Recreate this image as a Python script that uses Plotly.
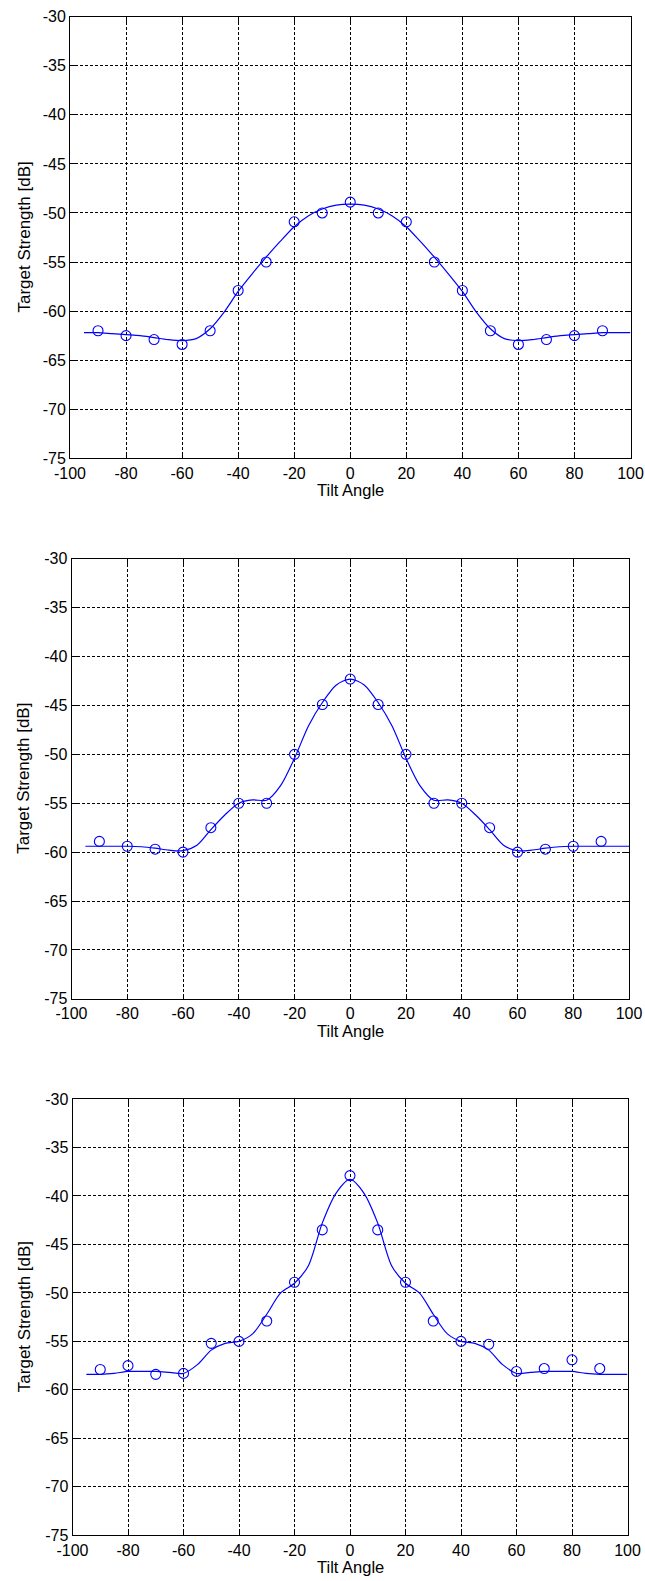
import plotly.graph_objects as go

# ---- data ----
tilt_points = [-90, -80, -70, -60, -50, -40, -30, -20, -10, 0, 10, 20, 30, 40, 50, 60, 70, 80, 90]
ts_points_1 = [-62.0, -62.5, -62.9, -63.4, -62.0, -57.9, -55.0, -50.9, -50.0, -48.9,
               -50.0, -50.9, -55.0, -57.9, -62.0, -63.4, -62.9, -62.5, -62.0]
ts_points_2 = [-58.9, -59.4, -59.7, -60.0, -57.5, -55.0, -55.0, -50.0, -44.9, -42.3,
               -44.9, -50.0, -55.0, -55.0, -57.5, -60.0, -59.7, -59.4, -58.9]
ts_points_3 = [-57.9, -57.5, -58.4, -58.3, -55.2, -55.0, -52.9, -48.9, -43.5, -37.9,
               -43.5, -48.9, -52.9, -55.0, -55.3, -58.1, -57.8, -56.9, -57.8]

tilt_curve = [-95, -90, -85, -80, -75, -70, -65, -60, -55, -50, -45, -40, -35, -30, -25, -20,
              -15, -10, -5, 0, 5, 10, 15, 20, 25, 30, 35, 40, 45, 50, 55, 60, 65, 70, 75, 80,
              85, 90, 95, 100]
ts_curve_1 = [-62.2, -62.2, -62.3, -62.4, -62.5, -62.7, -62.9, -63.0, -62.8, -61.8, -60.1, -58.0,
              -56.2, -54.5, -52.9, -51.4, -50.3, -49.6, -49.2, -49.1, -49.2, -49.6, -50.3, -51.4,
              -52.9, -54.5, -56.2, -58.0, -60.1, -61.8, -62.8, -63.0, -62.9, -62.7, -62.5, -62.4,
              -62.3, -62.2, -62.2, -62.2]
ts_curve_2 = [-59.4, -59.4, -59.4, -59.4, -59.45, -59.6, -59.8, -59.85, -59.3, -57.7, -56.2, -55.0,
              -54.65, -54.7, -53.2, -50.4, -47.1, -44.7, -42.9, -42.3, -42.9, -44.7, -47.1, -50.4,
              -53.2, -54.7, -54.65, -55.0, -56.2, -57.7, -59.3, -59.85, -59.8, -59.6, -59.45, -59.4,
              -59.4, -59.4, -59.4, -59.4]
ts_curve_3 = [-58.4, -58.4, -58.3, -58.1, -58.1, -58.1, -58.2, -58.3, -57.4, -55.9, -55.2, -55.0,
              -54.2, -52.2, -50.0, -49.0, -47.2, -42.8, -39.7, -38.3, -39.7, -42.8, -47.2, -49.0,
              -50.0, -52.2, -54.2, -55.0, -55.2, -55.9, -57.4, -58.3, -58.2, -58.1, -58.1, -58.1,
              -58.3, -58.4, -58.4, -58.4]

x_ticks = [-100, -80, -60, -40, -20, 0, 20, 40, 60, 80, 100]
y_ticks = [-75, -70, -65, -60, -55, -50, -45, -40, -35, -30]
x_title = "Tilt Angle"
y_title = "Target Strength [dB]"

# ---- layout geometry (pixels) ----
W, H = 645, 1581
panels = [  # left, right, top, bottom
    (70.0, 630.5, 16.7, 458.3),
    (71.5, 629.0, 558.8, 998.8),
    (72.5, 627.5, 1099.0, 1535.3),
]
points = [ts_points_1, ts_points_2, ts_points_3]
curves = [ts_curve_1, ts_curve_2, ts_curve_3]

BLUE = "#0000FF"
FONT = "Liberation Sans, Arial, sans-serif"

fig = go.Figure()
layout = dict(
    width=W, height=H,
    margin=dict(l=0, r=0, t=0, b=0, autoexpand=False),
    paper_bgcolor="white", plot_bgcolor="white",
    showlegend=False,
    font=dict(family=FONT, size=16, color="black"),
    annotations=[],
)

for i, (l, r, t, b) in enumerate(panels):
    n = "" if i == 0 else str(i + 1)
    xa, ya = "x" + n, "y" + n
    fig.add_trace(go.Scatter(x=tilt_curve, y=curves[i], mode="lines",
                             line=dict(color=BLUE, width=1.2, shape="spline", smoothing=0.8),
                             xaxis=xa, yaxis=ya, hoverinfo="skip"))
    fig.add_trace(go.Scatter(x=tilt_points, y=points[i], mode="markers",
                             marker=dict(symbol="circle-open", size=10, color=BLUE,
                                         line=dict(width=1.1, color=BLUE)),
                             xaxis=xa, yaxis=ya))
    common = dict(showline=True, linecolor="black", linewidth=1, mirror="ticks",
                  ticks="inside", ticklen=5, tickcolor="black", tickwidth=1,
                  showgrid=True, gridcolor="black", gridwidth=1, griddash="3px,2px",
                  zeroline=False, automargin=False,
                  tickfont=dict(family=FONT, size=16, color="black"))
    layout["xaxis" + n] = dict(common, domain=[l / W, r / W], range=[-100, 100],
                               tickvals=x_ticks, ticktext=[str(v) for v in x_ticks],
                               anchor=ya, ticklabelstandoff=0)
    layout["yaxis" + n] = dict(common, domain=[1 - b / H, 1 - t / H], range=[-75, -30],
                               tickvals=y_ticks, ticktext=[str(v) for v in y_ticks],
                               anchor=xa)
    layout["annotations"].append(dict(
        text=x_title, xref="paper", yref="paper", x=(l + r) / 2 / W, y=1 - (b + 32) / H,
        xanchor="center", yanchor="middle", showarrow=False,
        font=dict(family=FONT, size=16.5, color="black")))
    layout["annotations"].append(dict(
        text=y_title, xref="paper", yref="paper", x=24 / W, y=1 - (t + b) / 2 / H,
        xanchor="center", yanchor="middle", textangle=-90, showarrow=False,
        font=dict(family=FONT, size=17, color="black")))

fig.update_layout(**layout)
fig.write_html("out.html", config={"displayModeBar": False},
               post_script="document.body.style.margin='0';")
